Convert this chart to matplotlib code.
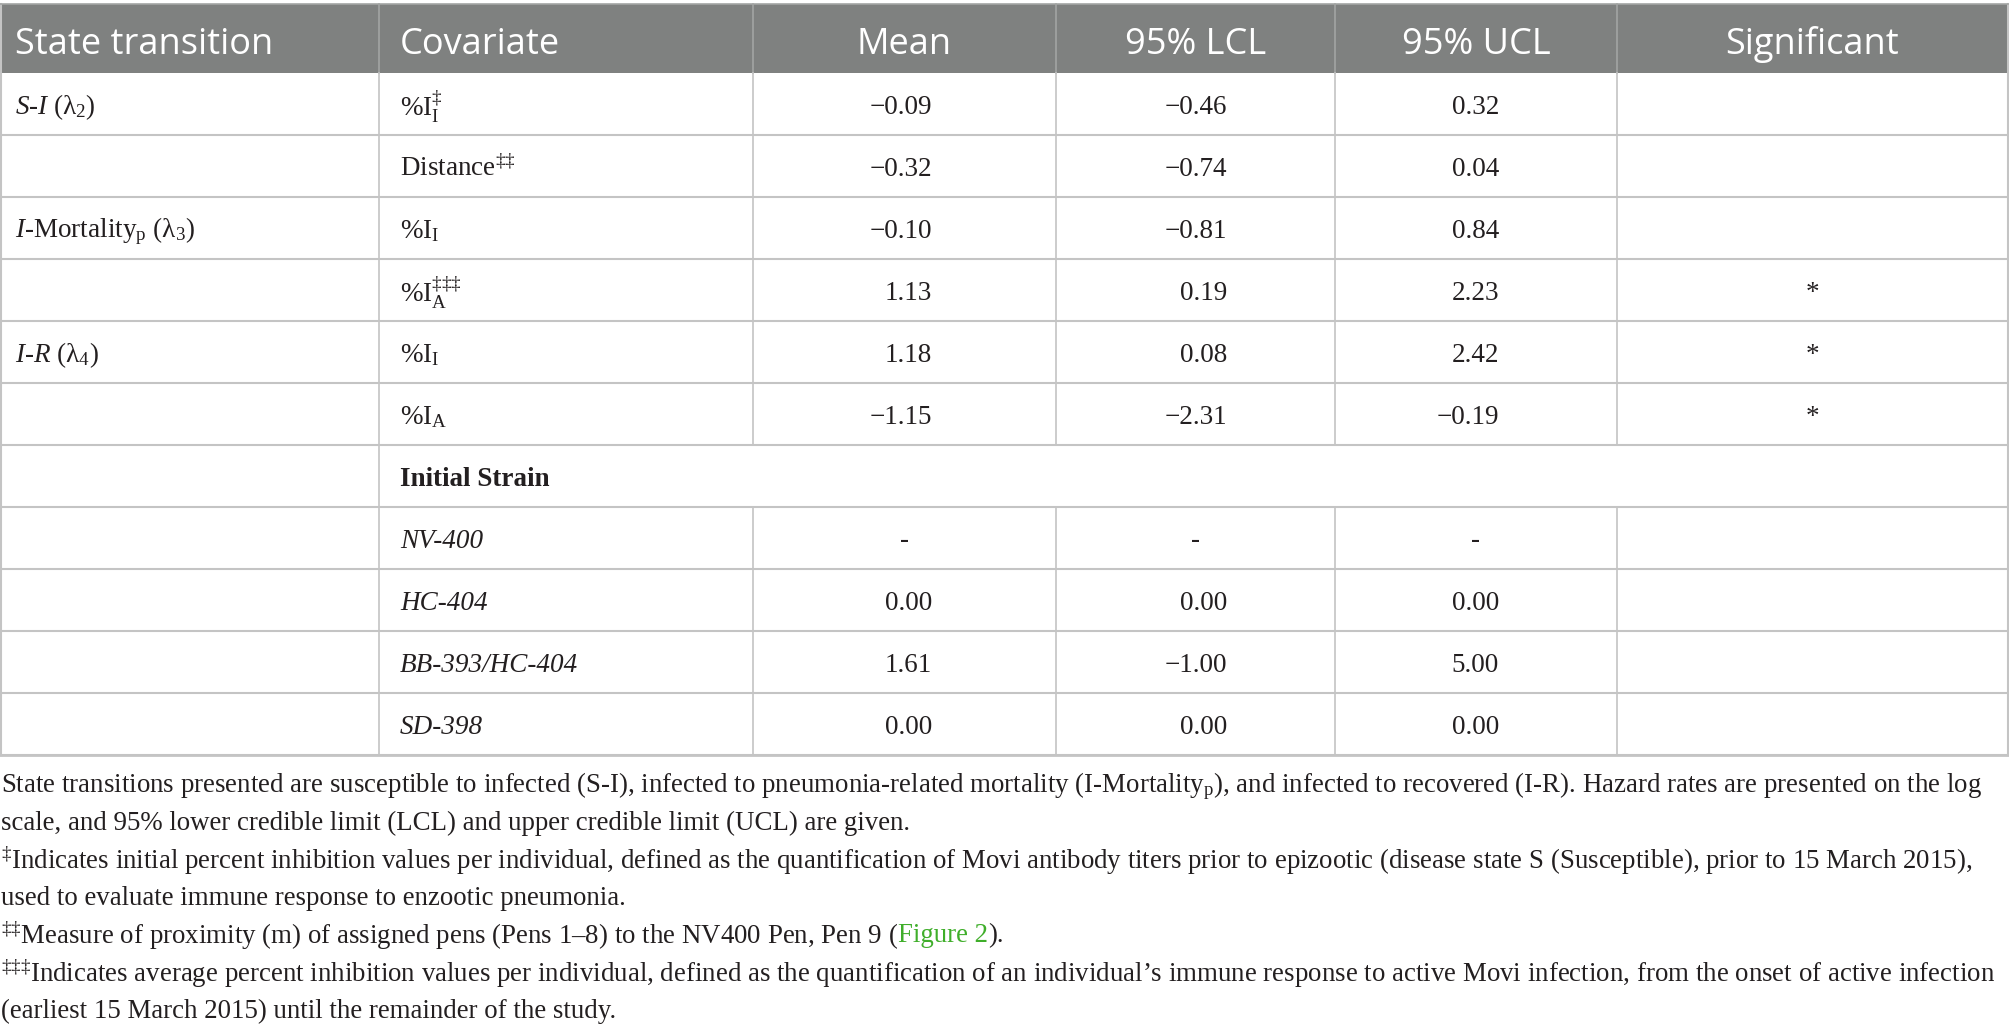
import matplotlib
matplotlib.use("Agg")
import matplotlib.pyplot as plt
from matplotlib.patches import Rectangle
import numpy as np

plt.rcParams['mathtext.fontset'] = 'custom'
plt.rcParams['mathtext.rm'] = 'Liberation Serif'
plt.rcParams['mathtext.it'] = 'Liberation Serif:italic'
plt.rcParams['mathtext.bf'] = 'Liberation Serif:bold'

# table content
headers = ["State transition", "Covariate", "Mean", "95% LCL", "95% UCL", "Significant"]
transitions = [r"$\mathit{S}$-$\mathit{I}$ (λ$_{2}$)", "",
               r"$\mathit{I}$-Mortality$_{\mathrm{p}}$ (λ$_{3}$)", "",
               r"$\mathit{I}$-$\mathit{R}$ (λ$_{4}$)", "",
               "", "", "", "", ""]
covariates = [r"%I$_{\mathrm{I}}^{\mathrm{‡}}$", r"Distance$^{\mathrm{‡‡}}$",
              r"%I$_{\mathrm{I}}$", r"%I$_{\mathrm{A}}^{\mathrm{‡‡‡}}$",
              r"%I$_{\mathrm{I}}$", r"%I$_{\mathrm{A}}$",
              "Initial Strain", "NV-400", "HC-404", "BB-393/HC-404", "SD-398"]
# row kind: 0 = covariate, 1 = group heading, 2 = strain
row_kind = [0, 0, 0, 0, 0, 0, 1, 2, 2, 2, 2]
means = [-0.09, -0.32, -0.10, 1.13, 1.18, -1.15, None, np.nan, 0.00, 1.61, 0.00]
lcl = [-0.46, -0.74, -0.81, 0.19, 0.08, -2.31, None, np.nan, 0.00, -1.00, 0.00]
ucl = [0.32, 0.04, 0.84, 2.23, 2.42, -0.19, None, np.nan, 0.00, 5.00, 0.00]
significant = ["", "", "", "*", "*", "*", "", "", "", "", ""]

notes = [
    "State transitions presented are susceptible to infected (S-I), infected to pneumonia-related mortality "
    "(I-Mortality$_{\\mathrm{p}}$), and infected to recovered (I-R). Hazard rates are presented on the log",
    "scale, and 95% lower credible limit (LCL) and upper credible limit (UCL) are given.",
    "$^{\\mathrm{‡}}$Indicates initial percent inhibition values per individual, defined as the quantification "
    "of Movi antibody titers prior to epizootic (disease state S (Susceptible), prior to 15 March 2015),",
    "used to evaluate immune response to enzootic pneumonia.",
    ["$^{\\mathrm{‡‡}}$Measure of proximity (m) of assigned pens (Pens 1–8) to the NV400 Pen, Pen 9 (",
     "Figure 2", ")."],
    "$^{\\mathrm{‡‡‡}}$Indicates average percent inhibition values per individual, defined as the quantification "
    "of an individual’s immune response to active Movi infection, from the onset of active infection",
    "(earliest 15 March 2015) until the remainder of the study.",
]

W, H = 2009, 1030
col_x = [0, 379, 753, 1056, 1335, 1617, 2008]
head_top, head_bot = 4, 73
row_h = 62
num_right = [932, 1227, 1499]
ink = '#231f20'
grid = '#c4c4c4'
serif = 'Liberation Serif'
body_fs = 19.5
note_fs = 19.4
head_fs = 26


def fmt(v):
    if v is None:
        return ""
    if np.isnan(v):
        return "-"
    return f"{v:.2f}".replace("-", "−")


fig = plt.figure(figsize=(W / 100, H / 100), dpi=100)
ax = fig.add_axes([0, 0, 1, 1])
ax.set_xlim(0, W)
ax.set_ylim(H, 0)
ax.set_axis_off()

# header band
ax.add_patch(Rectangle((0, head_top), col_x[-1], head_bot - head_top, facecolor='#7f8180', edgecolor='none'))
hy = (head_top + head_bot) / 2 + 6
for j, h in enumerate(headers):
    if j < 2:
        ax.text(col_x[j] + (15 if j == 0 else 21), hy, h, ha='left', va='center', color='white',
                family='Open Sans', fontsize=head_fs)
    else:
        ax.text((col_x[j] + col_x[j + 1]) / 2, hy, h, ha='center', va='center',
                color='white', family='Open Sans', fontsize=head_fs)
for x in col_x[1:-1]:
    ax.plot([x, x], [head_top, head_bot], color='#a3a5a4', lw=1.2)

n = len(covariates)
bottom = head_bot + n * row_h

# body
for i in range(n):
    y0 = head_bot + i * row_h
    yc = y0 + row_h / 2 + 3
    ax.text(col_x[0] + 15, yc, transitions[i], ha='left', va='center', color=ink,
            family=serif, fontsize=body_fs)
    kw = {}
    if row_kind[i] == 1:
        kw['fontweight'] = 'bold'
    elif row_kind[i] == 2:
        kw['fontstyle'] = 'italic'
    ax.text(col_x[1] + 21, yc, covariates[i], ha='left', va='center', color=ink,
            family=serif, fontsize=body_fs, **kw)
    for k, vals in enumerate([means, lcl, ucl]):
        s = fmt(vals[i])
        if s == "-":
            ax.text((col_x[k + 2] + col_x[k + 3]) / 2, yc, s, ha='center', va='center',
                    color=ink, family=serif, fontsize=body_fs)
        elif s:
            ax.text(num_right[k], yc, s, ha='right', va='center', color=ink,
                    family=serif, fontsize=body_fs)
    if significant[i]:
        ax.text((col_x[5] + col_x[6]) / 2, yc, significant[i], ha='center', va='center',
                color=ink, family=serif, fontsize=body_fs)
    # vertical rules
    xs = col_x[1:2] if row_kind[i] == 1 else col_x[1:-1]
    for x in xs:
        ax.plot([x, x], [y0, y0 + row_h], color=grid, lw=1.2)
    ax.plot([0, col_x[-1]], [y0 + row_h, y0 + row_h], color=grid, lw=1.5)

# outer frame
ax.plot([0.5, 0.5], [head_top, bottom], color=grid, lw=1.5)
ax.plot([col_x[-1], col_x[-1]], [head_top, bottom], color=grid, lw=1.5)
ax.plot([0, col_x[-1]], [head_top, head_top], color='#a3a5a4', lw=1.2)
ax.plot([0, col_x[-1]], [bottom, bottom], color=grid, lw=2)

# footnotes
renderer = fig.canvas.get_renderer()
note_y0, note_dy = 786, 37.5
for i, line in enumerate(notes):
    y = note_y0 + i * note_dy
    if isinstance(line, list):
        x = 1
        for part, col in zip(line, [ink, '#3fae2a', ink]):
            t = ax.text(x, y, part, ha='left', va='center', color=col,
                        family=serif, fontsize=note_fs)
            bb = t.get_window_extent(renderer)
            x += bb.width
    else:
        ax.text(1, y, line, ha='left', va='center', color=ink, family=serif, fontsize=note_fs)

fig.savefig("out.png", dpi=100)
